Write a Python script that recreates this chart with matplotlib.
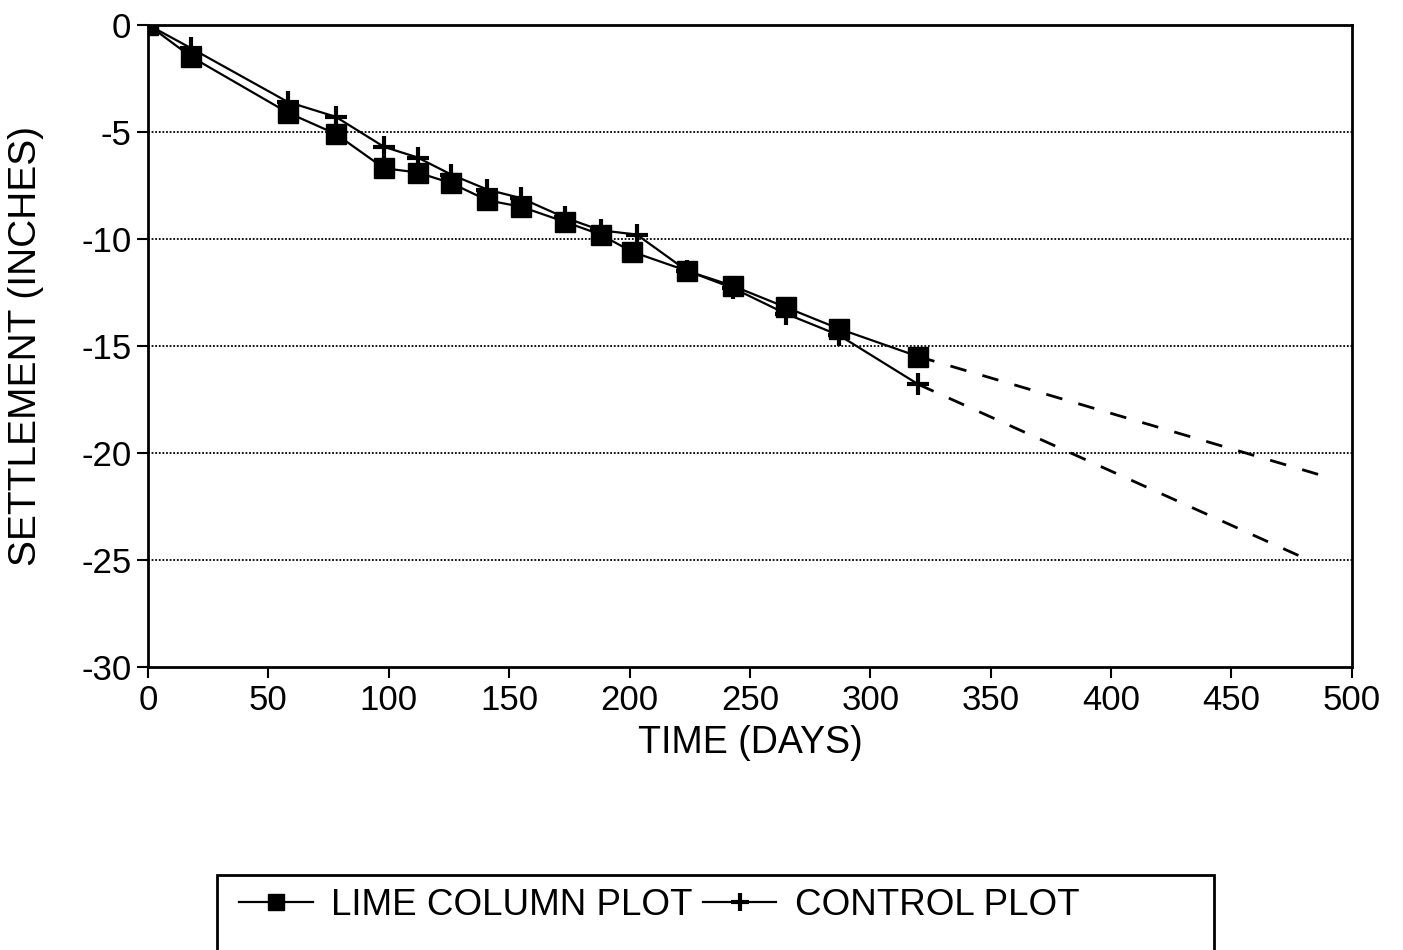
import matplotlib
matplotlib.use("Agg")
import matplotlib.pyplot as plt
from matplotlib.patches import Rectangle

plt.rcParams['font.family'] = ['Liberation Sans', 'DejaVu Sans']
plt.rcParams['axes.unicode_minus'] = False

# Data
lime_days = [0, 18, 58, 78, 98, 112, 126, 141, 155, 173, 188, 201, 224, 243, 265, 287, 320]
lime_settle = [0, -1.5, -4.1, -5.1, -6.7, -6.9, -7.4, -8.2, -8.5, -9.2, -9.8, -10.6,
               -11.5, -12.2, -13.2, -14.2, -15.5]
ctrl_days = [0, 18, 58, 78, 98, 112, 126, 141, 155, 173, 188, 203, 224, 243, 265, 287, 320]
ctrl_settle = [0, -1.1, -3.6, -4.3, -5.7, -6.2, -7.0, -7.7, -8.1, -9.0, -9.6, -9.8,
               -11.5, -12.3, -13.5, -14.5, -16.8]
# Extrapolated (dashed) projections
lime_proj_days = [320, 486]
lime_proj_settle = [-15.5, -21.0]
ctrl_proj_days = [320, 482]
ctrl_proj_settle = [-16.8, -25.0]

xticks = [0, 50, 100, 150, 200, 250, 300, 350, 400, 450, 500]
yticks = [0, -5, -10, -15, -20, -25, -30]

fig = plt.figure(figsize=(14.03, 9.5), dpi=100)
ax = fig.add_axes([0.1055, 0.2979, 0.858, 0.676])

for yv in yticks[1:-1]:
    ax.axhline(yv, color='black', lw=1.3, ls=(0, (1, 1)), zorder=1)

ax.plot(lime_proj_days, lime_proj_settle, color='black', lw=2.0, ls=(0, (6, 6)), zorder=2)
ax.plot(ctrl_proj_days, ctrl_proj_settle, color='black', lw=2.0, ls=(0, (6, 6)), zorder=2)

l1, = ax.plot(lime_days, lime_settle, color='black', lw=1.6, marker='s', ms=15,
              mfc='black', mec='black', zorder=3, label='LIME COLUMN PLOT')
l2, = ax.plot(ctrl_days, ctrl_settle, color='black', lw=1.6, marker='+', ms=16,
              mew=3, zorder=4, label='CONTROL PLOT')

ax.set_xlim(0, 500)
ax.set_ylim(-30, 0)
ax.set_xticks(xticks)
ax.set_yticks(yticks)
ax.tick_params(axis='both', labelsize=25, direction='out', length=8, width=1.5, pad=4)
for sp in ax.spines.values():
    sp.set_linewidth(2)
ax.set_xlabel('TIME (DAYS)', fontsize=27, labelpad=6)
ax.set_ylabel('SETTLEMENT (INCHES)', fontsize=28)
ax.yaxis.set_label_coords(-0.086, 0.5)

# Legend frame (extends below the figure edge, like the reference)
fig.patches.append(Rectangle((0.1547, -0.02), 0.7106, 0.0989, transform=fig.transFigure,
                             fill=False, ec='black', lw=2, clip_on=False))
fig.legend(handles=[l1, l2], loc='center left', bbox_to_anchor=(0.147, 0.047),
           ncol=2, frameon=False, fontsize=26.5, handlelength=2.0, handletextpad=0.5,
           columnspacing=0.27, markerscale=0.8)

fig.savefig('out.png', dpi=100)
